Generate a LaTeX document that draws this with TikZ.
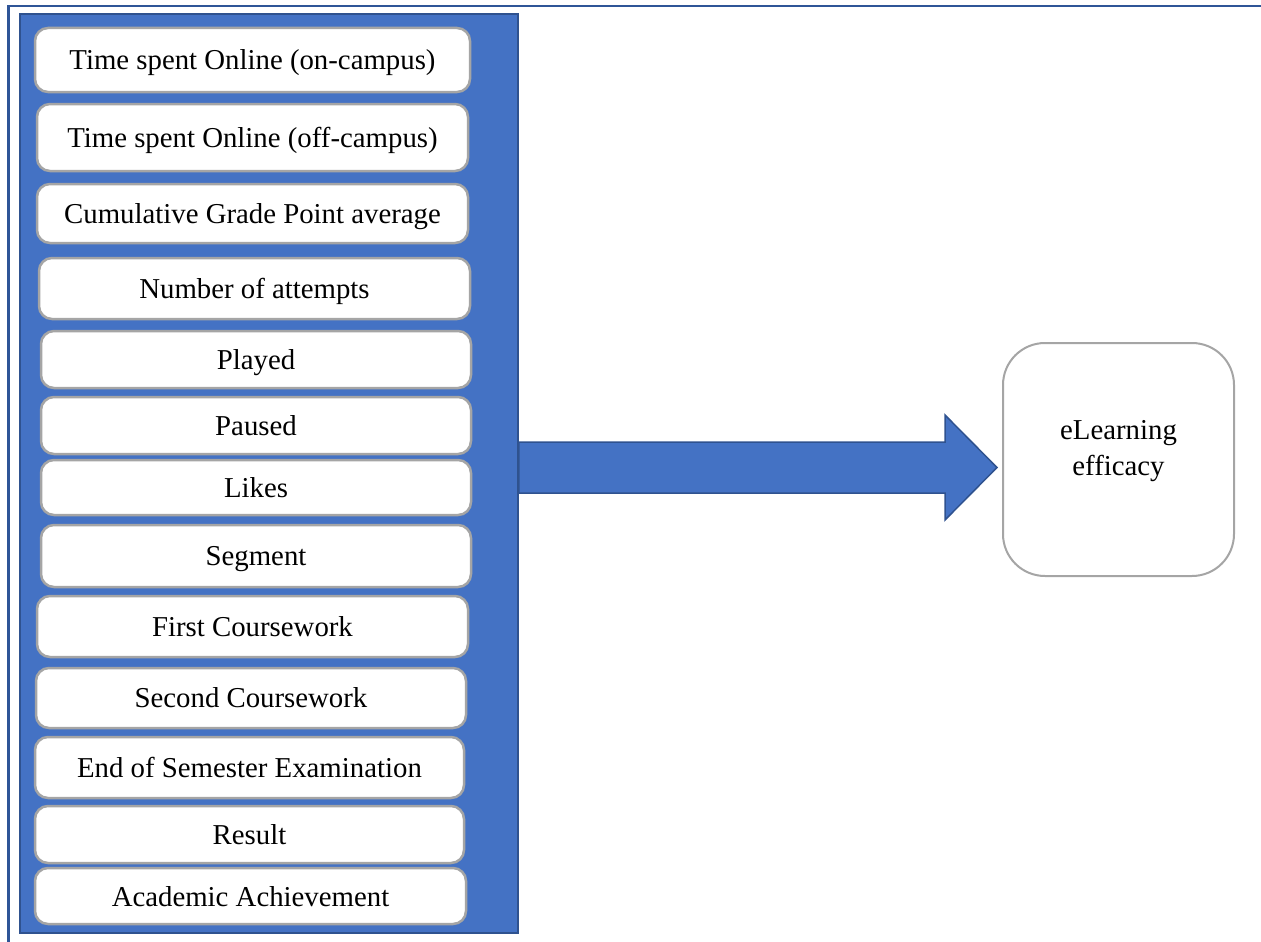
\documentclass[tikz,border=0pt]{standalone}
\usepackage{fontspec}
\setmainfont{Liberation Serif}
\definecolor{panelblue}{HTML}{4472C4}
\definecolor{paneledge}{HTML}{2F528F}
\definecolor{frameblue}{HTML}{2F5597}
\definecolor{boxgrey}{HTML}{A5A5A5}
\tikzset{
  panel/.style={draw=paneledge, line width=1.5pt, fill=panelblue, rectangle, inner sep=0pt},
  itembox/.style={draw=boxgrey, line width=2.5pt, fill=white, rectangle, rounded corners=13pt,
    inner sep=0pt, text depth=0pt, font=\fontsize{28.8}{34}\selectfont},
  resultbox/.style={draw=boxgrey, line width=2pt, fill=white, rectangle, rounded corners=42pt,
    inner sep=0pt, minimum width=231pt, minimum height=233pt},
  blockarrow/.style={draw=paneledge, line width=1.5pt, fill=panelblue, line join=miter},
  frame/.style={draw=frameblue, line width=2.5pt},
}
% place an item box from its left/right/top/bottom edges
\newcommand{\itembox}[6]{%
  \pgfmathsetmacro{\bw}{#3-#2}\pgfmathsetmacro{\bh}{#5-#4}%
  \pgfmathsetmacro{\bx}{(#2+#3)/2}\pgfmathsetmacro{\by}{(#4+#5)/2}%
  \node[itembox, minimum width=\bw pt, minimum height=\bh pt] (#1) at (\bx,\by) {#6};}
\begin{document}
\begin{tikzpicture}[x=1pt,y=-1pt]
\useasboundingbox (0,0) rectangle (1261,942);
% outer frame lines
\coordinate (fa) at (1261,6);
\coordinate (fb) at (8.5,6);
\coordinate (fc) at (8.5,942);
\draw[frame] (fa) -- (fb) -- (fc);
% input panel
\node[panel, minimum width=498pt, minimum height=919pt] (panel) at (269,473.5) {};
\itembox{b1}{35}{470}{28}{92}{Time spent Online (on-campus)}
\itembox{b2}{37}{468}{104}{171}{Time spent Online (off-campus)}
\itembox{b3}{37}{468}{184}{243}{Cumulative Grade Point average}
\itembox{b4}{39}{470}{258}{319}{Number of attempts}
\itembox{b5}{41}{471}{331}{388}{Played}
\itembox{b6}{41}{471}{397}{454}{Paused}
\itembox{b7}{41}{471}{460}{515}{Likes}
\itembox{b8}{41}{471}{525}{587}{Segment}
\itembox{b9}{37}{468}{596}{657}{First Coursework}
\itembox{b10}{36}{466}{668}{728}{Second Coursework}
\itembox{b11}{35}{464}{737}{798}{End of Semester Examination}
\itembox{b12}{35}{464}{806}{863}{Result}
\itembox{b13}{35}{466}{868}{924}{Academic Achievement}
% outcome box
\node[resultbox] (out) at (1118.5,459.5) {};
\node[font=\fontsize{28.8}{36}\selectfont, align=center] (outtext) at (1118.5,451) {eLearning\\efficacy};
% block arrow from the panel to the outcome
\draw[blockarrow] (panel.east |- 0,442) -- (945,442) -- (945,415) -- (997,467.5)
  -- (945,520) -- (945,493) -- (panel.east |- 0,493) -- cycle;
\end{tikzpicture}
\end{document}
